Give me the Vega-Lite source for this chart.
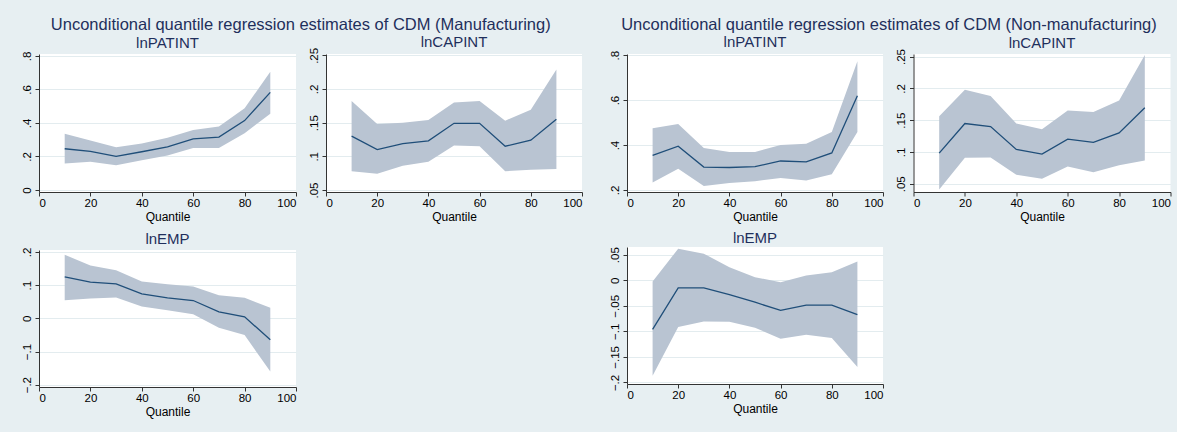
{
  "$schema": "https://vega.github.io/schema/vega-lite/v6.json",
  "padding": {"left": 21, "top": 16, "right": 7, "bottom": 21},
  "datasets": {
    "d": [
      {"g": "M", "v": "lnPATINT", "q": 10, "est": 0.246, "lo": 0.158, "hi": 0.335},
      {"g": "M", "v": "lnPATINT", "q": 20, "est": 0.230, "lo": 0.168, "hi": 0.295},
      {"g": "M", "v": "lnPATINT", "q": 30, "est": 0.200, "lo": 0.147, "hi": 0.255},
      {"g": "M", "v": "lnPATINT", "q": 40, "est": 0.228, "lo": 0.178, "hi": 0.277},
      {"g": "M", "v": "lnPATINT", "q": 50, "est": 0.257, "lo": 0.206, "hi": 0.311},
      {"g": "M", "v": "lnPATINT", "q": 60, "est": 0.305, "lo": 0.251, "hi": 0.358},
      {"g": "M", "v": "lnPATINT", "q": 70, "est": 0.315, "lo": 0.251, "hi": 0.378},
      {"g": "M", "v": "lnPATINT", "q": 80, "est": 0.414, "lo": 0.339, "hi": 0.487},
      {"g": "M", "v": "lnPATINT", "q": 90, "est": 0.582, "lo": 0.455, "hi": 0.705},
      {"g": "M", "v": "lnCAPINT", "q": 10, "est": 0.130, "lo": 0.078, "hi": 0.182},
      {"g": "M", "v": "lnCAPINT", "q": 20, "est": 0.110, "lo": 0.074, "hi": 0.148},
      {"g": "M", "v": "lnCAPINT", "q": 30, "est": 0.119, "lo": 0.086, "hi": 0.150},
      {"g": "M", "v": "lnCAPINT", "q": 40, "est": 0.123, "lo": 0.092, "hi": 0.154},
      {"g": "M", "v": "lnCAPINT", "q": 50, "est": 0.149, "lo": 0.116, "hi": 0.180},
      {"g": "M", "v": "lnCAPINT", "q": 60, "est": 0.149, "lo": 0.115, "hi": 0.182},
      {"g": "M", "v": "lnCAPINT", "q": 70, "est": 0.115, "lo": 0.078, "hi": 0.153},
      {"g": "M", "v": "lnCAPINT", "q": 80, "est": 0.124, "lo": 0.080, "hi": 0.169},
      {"g": "M", "v": "lnCAPINT", "q": 90, "est": 0.155, "lo": 0.081, "hi": 0.229},
      {"g": "M", "v": "lnEMP", "q": 10, "est": 0.125, "lo": 0.0546, "hi": 0.192},
      {"g": "M", "v": "lnEMP", "q": 20, "est": 0.109, "lo": 0.0597, "hi": 0.159},
      {"g": "M", "v": "lnEMP", "q": 30, "est": 0.104, "lo": 0.0627, "hi": 0.145},
      {"g": "M", "v": "lnEMP", "q": 40, "est": 0.0737, "lo": 0.0356, "hi": 0.111},
      {"g": "M", "v": "lnEMP", "q": 50, "est": 0.0617, "lo": 0.0246, "hi": 0.103},
      {"g": "M", "v": "lnEMP", "q": 60, "est": 0.0537, "lo": 0.0125, "hi": 0.0957},
      {"g": "M", "v": "lnEMP", "q": 70, "est": 0.0195, "lo": -0.0286, "hi": 0.0697},
      {"g": "M", "v": "lnEMP", "q": 80, "est": 0.0045, "lo": -0.0506, "hi": 0.0617},
      {"g": "M", "v": "lnEMP", "q": 90, "est": -0.0647, "lo": -0.160, "hi": 0.0316},
      {"g": "N", "v": "lnPATINT", "q": 10, "est": 0.354, "lo": 0.233, "hi": 0.475},
      {"g": "N", "v": "lnPATINT", "q": 20, "est": 0.395, "lo": 0.295, "hi": 0.494},
      {"g": "N", "v": "lnPATINT", "q": 30, "est": 0.302, "lo": 0.218, "hi": 0.387},
      {"g": "N", "v": "lnPATINT", "q": 40, "est": 0.300, "lo": 0.231, "hi": 0.369},
      {"g": "N", "v": "lnPATINT", "q": 50, "est": 0.304, "lo": 0.239, "hi": 0.369},
      {"g": "N", "v": "lnPATINT", "q": 60, "est": 0.329, "lo": 0.253, "hi": 0.400},
      {"g": "N", "v": "lnPATINT", "q": 70, "est": 0.325, "lo": 0.242, "hi": 0.406},
      {"g": "N", "v": "lnPATINT", "q": 80, "est": 0.365, "lo": 0.270, "hi": 0.458},
      {"g": "N", "v": "lnPATINT", "q": 90, "est": 0.619, "lo": 0.458, "hi": 0.773},
      {"g": "N", "v": "lnCAPINT", "q": 10, "est": 0.0981, "lo": 0.041, "hi": 0.156},
      {"g": "N", "v": "lnCAPINT", "q": 20, "est": 0.1447, "lo": 0.0907, "hi": 0.1976},
      {"g": "N", "v": "lnCAPINT", "q": 30, "est": 0.140, "lo": 0.0913, "hi": 0.188},
      {"g": "N", "v": "lnCAPINT", "q": 40, "est": 0.104, "lo": 0.0643, "hi": 0.1447},
      {"g": "N", "v": "lnCAPINT", "q": 50, "est": 0.0966, "lo": 0.058, "hi": 0.1357},
      {"g": "N", "v": "lnCAPINT", "q": 60, "est": 0.120, "lo": 0.077, "hi": 0.165},
      {"g": "N", "v": "lnCAPINT", "q": 70, "est": 0.115, "lo": 0.068, "hi": 0.1627},
      {"g": "N", "v": "lnCAPINT", "q": 80, "est": 0.130, "lo": 0.079, "hi": 0.1807},
      {"g": "N", "v": "lnCAPINT", "q": 90, "est": 0.1696, "lo": 0.0865, "hi": 0.2526},
      {"g": "N", "v": "lnEMP", "q": 10, "est": -0.096, "lo": -0.187, "hi": -0.0026},
      {"g": "N", "v": "lnEMP", "q": 20, "est": -0.0149, "lo": -0.0916, "hi": 0.0617},
      {"g": "N", "v": "lnEMP", "q": 30, "est": -0.015, "lo": -0.0805, "hi": 0.052},
      {"g": "N", "v": "lnEMP", "q": 40, "est": -0.028, "lo": -0.0812, "hi": 0.0253},
      {"g": "N", "v": "lnEMP", "q": 50, "est": -0.043, "lo": -0.0929, "hi": 0.0058},
      {"g": "N", "v": "lnEMP", "q": 60, "est": -0.059, "lo": -0.1143, "hi": -0.0039},
      {"g": "N", "v": "lnEMP", "q": 70, "est": -0.0487, "lo": -0.1065, "hi": 0.0091},
      {"g": "N", "v": "lnEMP", "q": 80, "est": -0.0487, "lo": -0.113, "hi": 0.0156},
      {"g": "N", "v": "lnEMP", "q": 90, "est": -0.0675, "lo": -0.1695, "hi": 0.0364}
    ]
  },
  "spacing": 26,
  "hconcat": [
    {
      "title": {"text": "Unconditional quantile regression estimates of CDM (Manufacturing)", "fontSize": 16.5, "anchor": "middle", "offset": 1.4, "dx": -1},
      "spacing": 8,
      "vconcat": [
        {
          "spacing": 11,
          "hconcat": [
            {
              "width": 257, "height": 138,
              "title": {"text": "lnPATINT", "fontSize": 15, "offset": 0.5},
              "data": {"name": "d"},
              "transform": [{"filter": "datum.g == 'M' && datum.v == 'lnPATINT'"}],
              "encoding": {"x": {"field": "q", "type": "quantitative", "title": "Quantile", "scale": {"domain": [0, 100], "nice": false}, "axis": {"values": [0, 20, 40, 60, 80, 100]}}},
              "layer": [
                {"mark": {"type": "area", "color": "#b9c4d2", "opacity": 1}, "encoding": {"y": {"field": "lo", "type": "quantitative", "title": null, "scale": {"domain": [-0.012, 0.811], "nice": false, "zero": false}, "axis": {"values": [0, 0.2, 0.4, 0.6, 0.8], "labelOverlap": false, "labelExpr": "replace(format(datum.value, '~g'), '0.', '.')"}}, "y2": {"field": "hi"}}},
                {"mark": {"type": "line", "color": "#1f4e79", "strokeWidth": 1.3}, "encoding": {"y": {"field": "est", "type": "quantitative", "title": null, "scale": {"domain": [-0.012, 0.811], "nice": false, "zero": false}, "axis": {"values": [0, 0.2, 0.4, 0.6, 0.8], "labelOverlap": false, "labelExpr": "replace(format(datum.value, '~g'), '0.', '.')"}}}}
              ]
            },
            {
              "width": 256, "height": 138,
              "title": {"text": "lnCAPINT", "fontSize": 15, "offset": -2.5},
              "data": {"name": "d"},
              "transform": [{"filter": "datum.g == 'M' && datum.v == 'lnCAPINT'"}],
              "encoding": {"x": {"field": "q", "type": "quantitative", "title": "Quantile", "scale": {"domain": [0, 100], "nice": false}, "axis": {"values": [0, 20, 40, 60, 80, 100]}}},
              "layer": [
                {"mark": {"type": "area", "color": "#b9c4d2", "opacity": 1}, "encoding": {"y": {"field": "lo", "type": "quantitative", "title": null, "scale": {"domain": [0.047, 0.252], "nice": false, "zero": false}, "axis": {"values": [0.05, 0.1, 0.15, 0.2, 0.25], "labelOverlap": false, "labelExpr": "replace(format(datum.value, '~g'), '0.', '.')"}}, "y2": {"field": "hi"}}},
                {"mark": {"type": "line", "color": "#1f4e79", "strokeWidth": 1.3}, "encoding": {"y": {"field": "est", "type": "quantitative", "title": null, "scale": {"domain": [0.047, 0.252], "nice": false, "zero": false}, "axis": {"values": [0.05, 0.1, 0.15, 0.2, 0.25], "labelOverlap": false, "labelExpr": "replace(format(datum.value, '~g'), '0.', '.')"}}}}
              ]
            }
          ]
        },
        {
          "width": 257, "height": 137,
          "title": {"text": "lnEMP", "fontSize": 15, "offset": 0.5},
          "data": {"name": "d"},
          "transform": [{"filter": "datum.g == 'M' && datum.v == 'lnEMP'"}],
          "encoding": {"x": {"field": "q", "type": "quantitative", "title": "Quantile", "scale": {"domain": [0, 100], "nice": false}, "axis": {"values": [0, 20, 40, 60, 80, 100]}}},
          "layer": [
            {"mark": {"type": "area", "color": "#b9c4d2", "opacity": 1}, "encoding": {"y": {"field": "lo", "type": "quantitative", "title": null, "scale": {"domain": [-0.207, 0.206], "nice": false, "zero": false}, "axis": {"values": [-0.2, -0.1, 0, 0.1, 0.2], "labelOverlap": false, "labelExpr": "replace(format(datum.value, '~g'), '0.', '.')"}}, "y2": {"field": "hi"}}},
            {"mark": {"type": "line", "color": "#1f4e79", "strokeWidth": 1.3}, "encoding": {"y": {"field": "est", "type": "quantitative", "title": null, "scale": {"domain": [-0.207, 0.206], "nice": false, "zero": false}, "axis": {"values": [-0.2, -0.1, 0, 0.1, 0.2], "labelOverlap": false, "labelExpr": "replace(format(datum.value, '~g'), '0.', '.')"}}}}
          ]
        }
      ]
    },
    {
      "title": {"text": "Unconditional quantile regression estimates of CDM (Non-manufacturing)", "fontSize": 16.5, "anchor": "middle", "offset": 1.4, "dx": -1},
      "spacing": 8,
      "vconcat": [
        {
          "spacing": 11.5,
          "hconcat": [
            {
              "width": 256, "height": 138,
              "title": {"text": "lnPATINT", "fontSize": 15, "offset": 0.5},
              "data": {"name": "d"},
              "transform": [{"filter": "datum.g == 'N' && datum.v == 'lnPATINT'"}],
              "encoding": {"x": {"field": "q", "type": "quantitative", "title": "Quantile", "scale": {"domain": [0, 100], "nice": false}, "axis": {"values": [0, 20, 40, 60, 80, 100]}}},
              "layer": [
                {"mark": {"type": "area", "color": "#b9c4d2", "opacity": 1}, "encoding": {"y": {"field": "lo", "type": "quantitative", "title": null, "scale": {"domain": [0.191, 0.805], "nice": false, "zero": false}, "axis": {"values": [0.2, 0.4, 0.6, 0.8], "labelOverlap": false, "labelExpr": "replace(format(datum.value, '~g'), '0.', '.')"}}, "y2": {"field": "hi"}}},
                {"mark": {"type": "line", "color": "#1f4e79", "strokeWidth": 1.3}, "encoding": {"y": {"field": "est", "type": "quantitative", "title": null, "scale": {"domain": [0.191, 0.805], "nice": false, "zero": false}, "axis": {"values": [0.2, 0.4, 0.6, 0.8], "labelOverlap": false, "labelExpr": "replace(format(datum.value, '~g'), '0.', '.')"}}}}
              ]
            },
            {
              "width": 257, "height": 138,
              "title": {"text": "lnCAPINT", "fontSize": 15, "offset": -2.5},
              "data": {"name": "d"},
              "transform": [{"filter": "datum.g == 'N' && datum.v == 'lnCAPINT'"}],
              "encoding": {"x": {"field": "q", "type": "quantitative", "title": "Quantile", "scale": {"domain": [0, 100], "nice": false}, "axis": {"values": [0, 20, 40, 60, 80, 100]}}},
              "layer": [
                {"mark": {"type": "area", "color": "#b9c4d2", "opacity": 1}, "encoding": {"y": {"field": "lo", "type": "quantitative", "title": null, "scale": {"domain": [0.037, 0.254], "nice": false, "zero": false}, "axis": {"values": [0.05, 0.1, 0.15, 0.2, 0.25], "labelOverlap": false, "labelExpr": "replace(format(datum.value, '~g'), '0.', '.')"}}, "y2": {"field": "hi"}}},
                {"mark": {"type": "line", "color": "#1f4e79", "strokeWidth": 1.3}, "encoding": {"y": {"field": "est", "type": "quantitative", "title": null, "scale": {"domain": [0.037, 0.254], "nice": false, "zero": false}, "axis": {"values": [0.05, 0.1, 0.15, 0.2, 0.25], "labelOverlap": false, "labelExpr": "replace(format(datum.value, '~g'), '0.', '.')"}}}}
              ]
            }
          ]
        },
        {
          "width": 256, "height": 137,
          "title": {"text": "lnEMP", "fontSize": 15, "offset": 0.5},
          "data": {"name": "d"},
          "transform": [{"filter": "datum.g == 'N' && datum.v == 'lnEMP'"}],
          "encoding": {"x": {"field": "q", "type": "quantitative", "title": "Quantile", "scale": {"domain": [0, 100], "nice": false}, "axis": {"values": [0, 20, 40, 60, 80, 100]}}},
          "layer": [
            {"mark": {"type": "area", "color": "#b9c4d2", "opacity": 1}, "encoding": {"y": {"field": "lo", "type": "quantitative", "title": null, "scale": {"domain": [-0.203, 0.065], "nice": false, "zero": false}, "axis": {"values": [-0.2, -0.15, -0.1, -0.05, 0, 0.05], "labelOverlap": false, "labelExpr": "replace(format(datum.value, '~g'), '0.', '.')"}}, "y2": {"field": "hi"}}},
            {"mark": {"type": "line", "color": "#1f4e79", "strokeWidth": 1.3}, "encoding": {"y": {"field": "est", "type": "quantitative", "title": null, "scale": {"domain": [-0.203, 0.065], "nice": false, "zero": false}, "axis": {"values": [-0.2, -0.15, -0.1, -0.05, 0, 0.05], "labelOverlap": false, "labelExpr": "replace(format(datum.value, '~g'), '0.', '.')"}}}}
          ]
        }
      ]
    }
  ],
  "config": {
    "background": "#e7eff2",
    "font": "Liberation Sans",
    "view": {"fill": "white", "stroke": null},
    "axis": {"domainColor": "#333333", "tickColor": "#333333", "labelColor": "#000000", "labelFontSize": 11.5, "titleFontSize": 12, "titleFontWeight": "normal", "titleColor": "#000000", "tickSize": 4, "gridColor": "#e3ecef", "labelFont": "Liberation Sans", "titleFont": "Liberation Sans"},
    "axisX": {"grid": false, "labelPadding": 1, "titlePadding": 3},
    "axisY": {"grid": true, "labelAngle": -90, "labelAlign": "center", "labelBaseline": "bottom", "labelPadding": 3, "labelOverlap": false},
    "title": {"fontWeight": "normal", "color": "#1f2f5c", "font": "Liberation Sans"}
  }
}
